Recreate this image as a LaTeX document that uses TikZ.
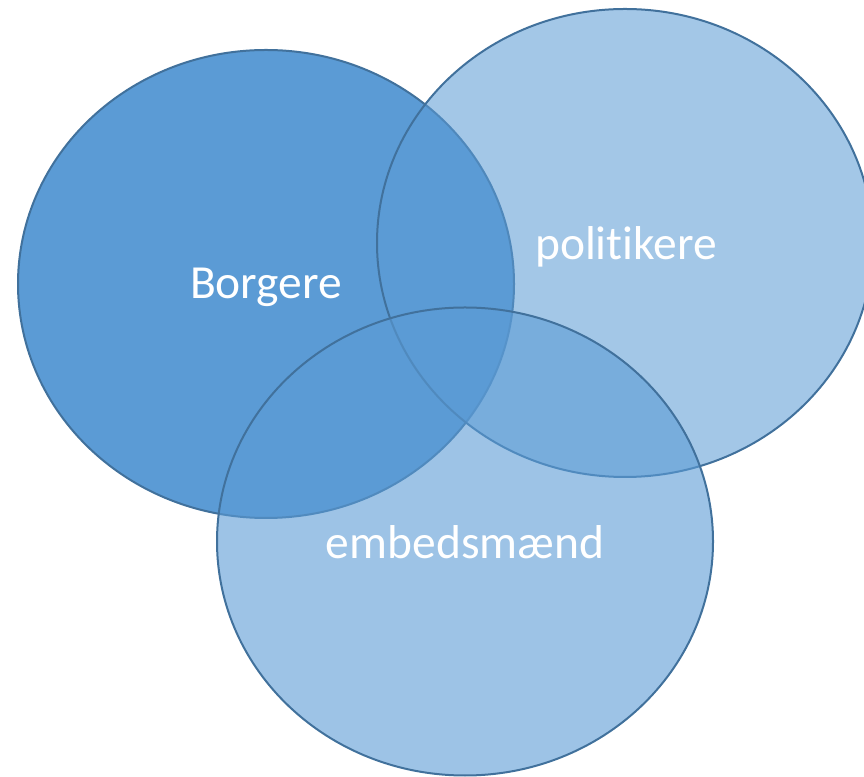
\documentclass[tikz,border=0pt]{standalone}
\usepackage{fontspec}
\setmainfont{Carlito}[Ligatures=NoCommon]
\usetikzlibrary{shapes.geometric}
\definecolor{vfill}{HTML}{5B9BD5}
\definecolor{vedge}{HTML}{41719C}
\begin{document}
\begin{tikzpicture}[x=1pt,y=1pt,
  venn/.style={ellipse, draw=vedge, line width=2pt, fill=vfill,
    minimum width=496pt, minimum height=468pt, inner sep=0pt, outer sep=0pt},
  lbl/.style={text=white, font=\fontsize{47.5}{56}\selectfont, anchor=base, inner sep=0pt}]
\useasboundingbox (0,0) rectangle (864,776);
\clip (0,0) rectangle (864,776);
\node[venn] (borgere) at (266,492) {};
\node[venn, fill opacity=0.56] (politikere) at (625,533) {};
\node[venn, fill opacity=0.6] (embedsmaend) at (465,234.5) {};
\node[lbl] (tb) at (266,477) {Borgere};
\node[lbl] (tp) at (626,516) {politikere};
\node[lbl] (te) at (465,217) {embedsmænd};
\end{tikzpicture}
\end{document}
